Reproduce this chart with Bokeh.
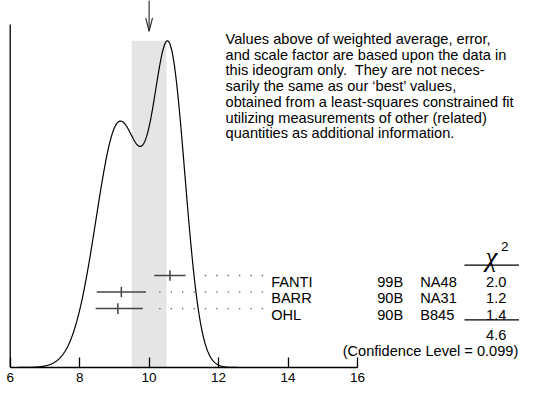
import numpy as np
from bokeh.plotting import figure
from bokeh.models import Range1d, LinearAxis, FixedTicker
from bokeh.core.properties import value
from bokeh.embed import file_html
from bokeh.resources import INLINE

# ---------------- data ----------------
names = ["FANTI", "BARR", "OHL"]
years = ["99B", "90B", "90B"]
experiments = ["NA48", "NA31", "B845"]
values = [10.6, 9.2, 9.1]
err_minus = [0.45, 0.71, 0.64]
err_plus = [0.45, 0.71, 0.72]
chi2 = [2.0, 1.2, 1.4]
chi2_total = 4.6
conf_level = 0.099
average = 10.0
average_err = 0.5
x_ticks = [6, 8, 10, 12, 14, 16]
note_lines = [
    "Values above of weighted average, error,",
    "and scale factor are based upon the data in",
    "this ideogram only.\u00a0 They are not neces-",
    "sarily the same as our \u2018best\u2019 values,",
    "obtained from a least-squares constrained fit",
    "utilizing measurements of other (related)",
    "quantities as additional information.",
]

# ---------------- layout helpers (reference pixel -> data) ----------------
REF_W, REF_H = 535.0, 404.0
W, H = 519, 388
BOTTOM = 21
PPU = 35.8          # reference pixels per x unit
SX6 = 10.0          # reference x of the value 6
AXIS_SY = 382.0     # reference y of the x axis
FONT = value("Liberation Sans")
FS = "14.6px"


def xd(sx):
    return 6 + (sx - SX6) / PPU


def yd(sy):
    return AXIS_SY - sy


p = figure(width=W, height=H, output_backend="svg", toolbar_location=None,
           x_axis_type=None, y_axis_type=None,
           min_border_left=0, min_border_right=0, min_border_top=0, min_border_bottom=BOTTOM,
           x_range=Range1d(xd(0), xd(REF_W)), y_range=Range1d(0, AXIS_SY))
p.outline_line_color = None
p.background_fill_color = "white"
p.border_fill_color = "white"

# ---------------- ideogram ----------------
xs = np.linspace(6, 16, 600)
ideo = np.zeros_like(xs)
for v, em, ep in zip(values, err_minus, err_plus):
    s_mean = 0.5 * (em + ep)
    s = np.where(xs < v, em, ep)
    ideo += (1.0 / s_mean ** 2) * np.exp(-0.5 * ((xs - v) / s) ** 2)
PEAK = yd(42.0)
ideo_y = ideo * PEAK / ideo.max()

# shaded band of weighted average +- error
p.quad(left=average - average_err, right=average + average_err, bottom=0, top=ideo_y.max(),
       fill_color="#e5e5e5", line_color=None)

# left vertical frame line
p.segment(x0=6, y0=0, x1=6, y1=yd(25), line_color="black", line_width=1.3)

p.line(xs, ideo_y, line_color="black", line_width=1.2)

# arrow marking the weighted average
p.segment(x0=average, y0=yd(0), x1=average, y1=yd(32), line_color="#333333", line_width=1.2)
p.multi_line(xs=[[average - 3.5 / PPU, average, average + 3.5 / PPU]],
             ys=[[yd(18), yd(32), yd(18)]], line_color="#333333", line_width=1.2)

# ---------------- measurements ----------------
ROW0 = 286.3
ROW_STEP = 17.2
LABEL_SX = 279.0
DOT_STEP = 11.74


def txt(sx, sy, s, align="left", size=FS, font=FONT, style="normal"):
    p.text(x=[xd(sx)], y=[yd(sy)], text=[s], text_font=font, text_font_size=size,
           text_font_style=style, text_baseline="alphabetic", text_align=align,
           text_color="black")


for i, (nm, v, em, ep) in enumerate(zip(names, values, err_minus, err_plus)):
    sy = ROW0 + i * ROW_STEP
    y = yd(sy)
    p.segment(x0=v - em, y0=y, x1=v + ep, y1=y, line_color="#444444", line_width=1.5)
    p.segment(x0=v, y0=y - 5.5, x1=v, y1=y + 5.5, line_color="#444444", line_width=1.5)
    # dotted leader
    bar_end_px = SX6 + (v + ep - 6) * PPU
    dots = []
    dsx = LABEL_SX - 9
    while dsx > bar_end_px + 6:
        dots.append(xd(dsx))
        dsx -= DOT_STEP
    p.scatter(x=dots, y=[y] * len(dots), marker="square", size=1.4,
              fill_color="#666666", line_color=None)
    base = sy + 6.2
    txt(LABEL_SX, base, nm)
    txt(388.3, base, years[i])
    txt(432.7, base, experiments[i])
    txt(511, base, "%.1f" % chi2[i], align="center")

# chi-square header and rules
txt(506.0, 266.5, "\u03c7", align="center", size="27px", font=value("Liberation Serif"),
    style="italic")
txt(516, 255.7, "2", size="13.5px")
p.segment(x0=xd(478.3), y0=yd(275.5), x1=xd(REF_W), y1=yd(275.5), line_color="black", line_width=1.2)
p.segment(x0=xd(478.3), y0=yd(332.5), x1=xd(REF_W), y1=yd(332.5), line_color="black", line_width=1.2)
txt(511, 348.5, "%.1f" % chi2_total, align="center")
txt(352.7, 365.0, "(Confidence Level = %.3f)" % conf_level)

# note paragraph
p.text(x=[xd(232)] * len(note_lines), y=[yd(40.0 + 16.4 * k) for k in range(len(note_lines))],
       text=note_lines, text_font=FONT, text_font_size=FS, text_baseline="alphabetic",
       text_align="left", text_color="black")

# ---------------- x axis ----------------
ax = LinearAxis(ticker=FixedTicker(ticks=x_ticks), bounds=(6, 16),
                major_tick_in=10, major_tick_out=0, minor_tick_line_color=None,
                axis_line_color="black", axis_line_width=1.3,
                major_tick_line_color="black", major_tick_line_width=1.3,
                major_label_text_font="Liberation Sans", major_label_text_font_size="13.5px",
                major_label_text_color="black", major_label_standoff=5)
p.add_layout(ax, "below")

open("out.html", "w").write(file_html(p, INLINE))
